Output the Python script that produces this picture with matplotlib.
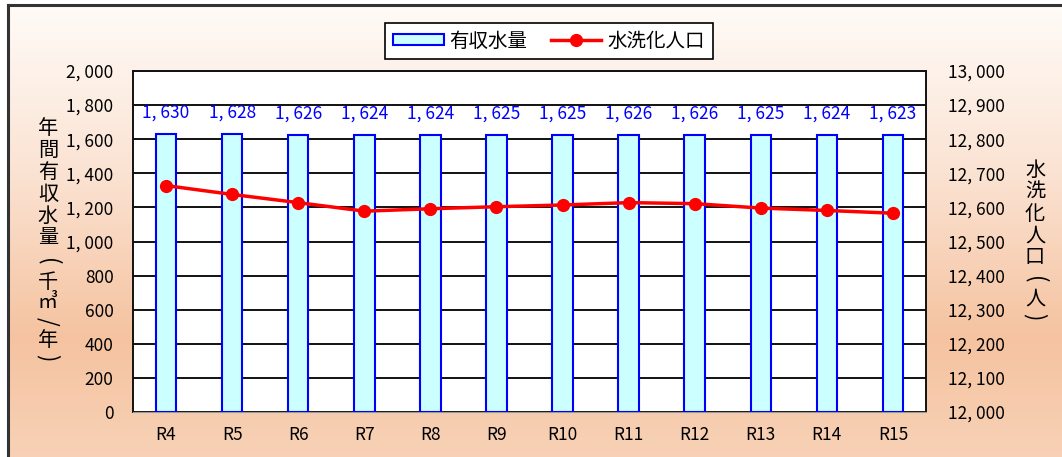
import matplotlib.pyplot as plt
import numpy as np
from matplotlib.colors import LinearSegmentedColormap
from matplotlib.lines import Line2D
from matplotlib.patches import Patch

plt.rcParams['font.family'] = ['Noto Sans CJK JP', 'DejaVu Sans']

years = ['R4', 'R5', 'R6', 'R7', 'R8', 'R9', 'R10', 'R11', 'R12', 'R13', 'R14', 'R15']
water = [1630, 1628, 1626, 1624, 1624, 1625, 1625, 1626, 1626, 1625, 1624, 1623]
population = [12664, 12638, 12614, 12589, 12596, 12602, 12607, 12614, 12611, 12598, 12591, 12583]
left_ticks = [0, 200, 400, 600, 800, 1000, 1200, 1400, 1600, 1800, 2000]
right_ticks = [12000, 12100, 12200, 12300, 12400, 12500, 12600, 12700, 12800, 12900, 13000]


def fmt(v):
    return f"{v:,}".replace(",", ", ")


W, H = 1062, 457
fig = plt.figure(figsize=(W / 100, H / 100), dpi=100, facecolor='white')

# peach gradient backdrop inside the outer frame
bg = fig.add_axes([8 / W, -0.05, 1.05, 1.05 - 5 / H])
bg.set_axis_off()
cmap = LinearSegmentedColormap.from_list(
    'peach', [(0.0, '#F8D4BA'), (0.30, '#F5C3A0'), (0.65, '#FBE3D3'), (1.0, '#FFFBF8')])
bg.imshow(np.linspace(0, 1, 256).reshape(-1, 1), cmap=cmap, aspect='auto',
          origin='lower', extent=[0, 1, 0, 1])
bg.plot([0, 0], [0, 1], color='#333333', lw=2.2, transform=bg.transAxes, clip_on=False)
bg.plot([0, 1], [1, 1], color='#333333', lw=2.2, transform=bg.transAxes, clip_on=False)

ax = fig.add_axes([133 / W, 1 - 412 / H, (926 - 133) / W, (412 - 71) / H])
ax.set_facecolor('white')
x = np.arange(len(years))

ax.bar(x, water, width=0.31, color='#CCFFFF', edgecolor='#0000FF', linewidth=1.5, zorder=3)
for xi, v in zip(x, water):
    ax.annotate(fmt(v), (xi, v), xytext=(0, 9), textcoords='offset points',
                ha='center', va='bottom', color='#0000FF', fontsize=12.5, zorder=5)

ax.set_ylim(0, 2000)
ax.set_xlim(-0.5, len(years) - 0.5)
ax.set_yticks(left_ticks)
ax.set_yticklabels([fmt(t) for t in left_ticks], fontsize=12.5)
ax.set_xticks(x)
ax.set_xticklabels(years, fontsize=12.5)
ax.tick_params(axis='both', length=0, pad=14)
ax.tick_params(axis='x', pad=10)
ax.grid(axis='y', color='#111111', linewidth=1.4, zorder=1)
ax.set_axisbelow(True)
ax.spines['bottom'].set_color('#999999')
for side in ('left', 'right', 'top'):
    ax.spines[side].set_color('#111111')
    ax.spines[side].set_linewidth(1.4)

ax2 = ax.twinx()
ax2.plot(x, population, color='#FF0000', lw=2.5, marker='o', markersize=8.5, zorder=6)
ax2.set_ylim(12000, 13000)
ax2.set_yticks(right_ticks)
ax2.set_yticklabels([fmt(t) for t in right_ticks], fontsize=12.5)
ax2.tick_params(axis='y', length=0, pad=16)
for side in ('left', 'right', 'top', 'bottom'):
    ax2.spines[side].set_visible(False)

# stacked vertical axis titles; brackets and slash turned for vertical writing
turned = {'(': -90, ')': -90, '/': -90}
left_title = ['年', '間', '有', '収', '水', '量', '(', '千', '㎥', '/', '年', ')']
left_y = [128, 150, 172, 194, 216, 238, 262, 283, 302, 321, 340, 358]
for ch, yy in zip(left_title, left_y):
    fig.text(48 / W, 1 - yy / H, ch, ha='center', va='center',
             fontsize=16 if ch in turned else 14.5, rotation=turned.get(ch, 0))

right_title = ['水', '洗', '化', '人', '口', '(', '人', ')']
right_y = [170, 192, 214, 236, 257, 280, 299, 317]
for ch, yy in zip(right_title, right_y):
    fig.text(1035 / W, 1 - yy / H, ch, ha='center', va='center',
             fontsize=16 if ch in turned else 14.5, rotation=turned.get(ch, 0))

handles = [Patch(facecolor='#CCFFFF', edgecolor='#0000FF', linewidth=1.5),
           Line2D([], [], color='#FF0000', lw=2.5, marker='o', markersize=8.5)]
leg = fig.legend(handles, ['有収水量', '水洗化人口'], loc='center',
                 bbox_to_anchor=(549 / W, 1 - 41 / H), ncol=2, fontsize=14,
                 frameon=True, fancybox=False, edgecolor='black', framealpha=1,
                 handlelength=2.6, handleheight=0.5, columnspacing=1.2,
                 handletextpad=0.3, borderpad=0.4)
leg.get_frame().set_linewidth(1.2)

fig.savefig('out.png', dpi=100)
